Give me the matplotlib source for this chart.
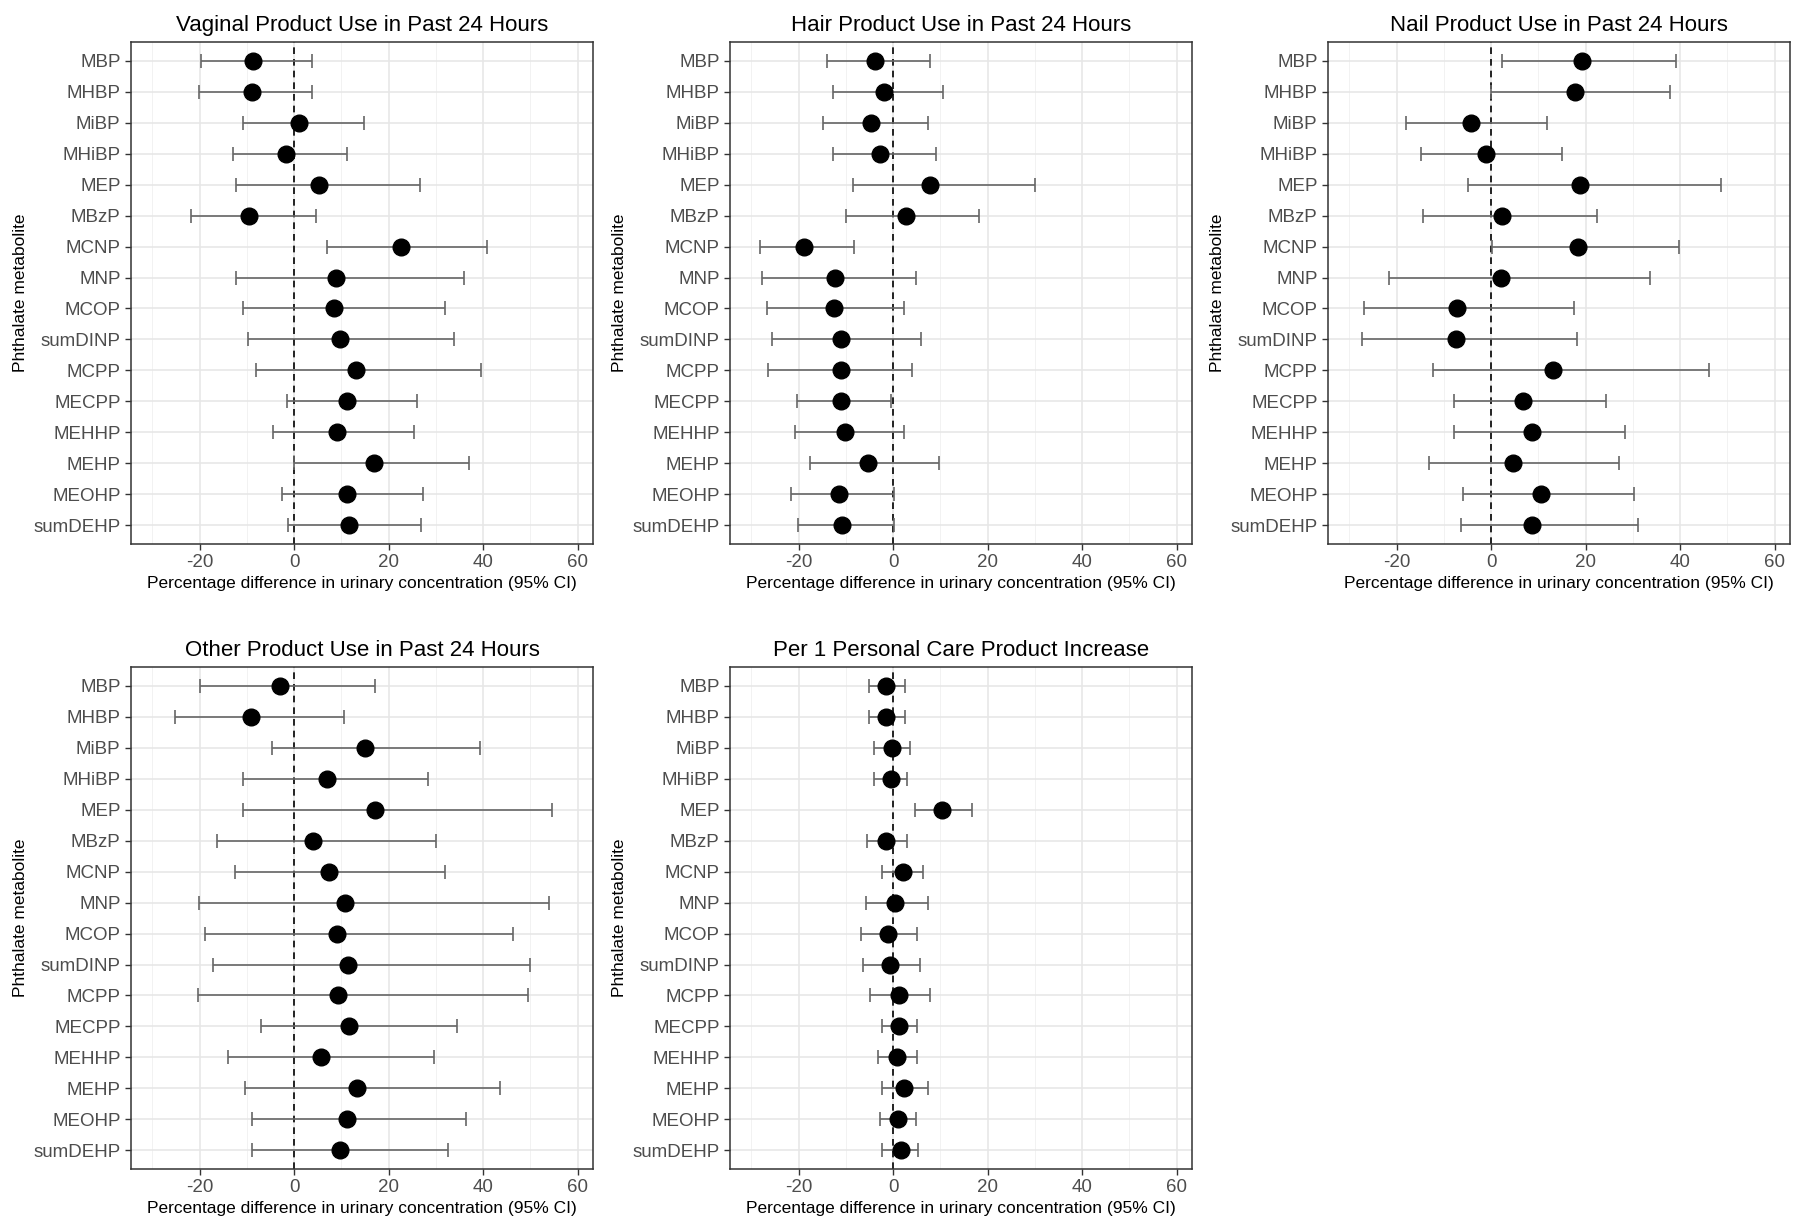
import matplotlib
matplotlib.use('Agg')
import matplotlib.pyplot as plt
from matplotlib.ticker import MultipleLocator

plt.rcParams['font.family'] = ['Liberation Sans', 'DejaVu Sans']
plt.rcParams['axes.unicode_minus'] = False

# metabolites, top to bottom
metabolites = ['MBP', 'MHBP', 'MiBP', 'MHiBP', 'MEP', 'MBzP', 'MCNP', 'MNP', 'MCOP',
               'sumDINP', 'MCPP', 'MECPP', 'MEHHP', 'MEHP', 'MEOHP', 'sumDEHP']

# Vaginal product use
vag_est = [-8.6, -9.0, 1.1, -1.8, 5.3, -9.6, 22.7, 8.8, 8.4, 9.8, 13.1, 11.2, 9.1, 16.9, 11.2, 11.7]
vag_lo = [-19.6, -20.2, -10.9, -12.9, -12.2, -21.9, 6.9, -12.2, -10.9, -9.8, -8.0, -1.4, -4.5, 0.0, -2.6, -1.2]
vag_hi = [3.7, 3.7, 14.9, 11.2, 26.7, 4.7, 40.8, 35.9, 32.0, 33.9, 39.5, 26.1, 25.3, 37.1, 27.2, 26.9]

# Hair product use
hair_est = [-3.9, -1.9, -4.7, -2.7, 7.9, 2.8, -18.8, -12.3, -12.5, -11.1, -11.1, -11.1, -10.2, -5.4, -11.4, -10.9]
hair_lo = [-14.0, -12.7, -14.9, -12.7, -8.4, -10.0, -28.2, -27.8, -26.6, -25.6, -26.4, -20.4, -20.7, -17.6, -21.5, -20.1]
hair_hi = [7.9, 10.5, 7.3, 9.0, 30.0, 18.2, -8.2, 4.9, 2.4, 5.9, 4.1, -0.4, 2.4, 9.7, 0.2, 0.2]

# Nail product use
nail_est = [19.2, 17.7, -4.2, -1.1, 18.8, 2.4, 18.4, 2.2, -7.2, -7.5, 13.2, 6.8, 8.6, 4.7, 10.6, 8.6]
nail_lo = [2.4, 0.0, -17.9, -14.9, -4.9, -14.4, 0.2, -21.6, -26.8, -27.3, -12.2, -7.9, -7.9, -13.2, -5.9, -6.4]
nail_hi = [39.2, 37.8, 11.8, 15.1, 48.6, 22.4, 39.8, 33.7, 17.6, 18.2, 46.2, 24.3, 28.4, 27.1, 30.2, 31.2]

# Other product use
oth_est = [-3.0, -9.2, 15.1, 6.9, 17.1, 4.1, 7.5, 10.8, 9.0, 11.4, 9.2, 11.7, 5.7, 13.3, 11.2, 9.8]
oth_lo = [-19.8, -25.2, -4.7, -10.9, -10.9, -16.2, -12.4, -20.1, -18.8, -17.1, -20.3, -7.0, -13.9, -10.4, -8.8, -8.8]
oth_hi = [17.2, 10.6, 39.4, 28.4, 54.5, 30.0, 32.0, 53.9, 46.3, 50.0, 49.6, 34.5, 29.7, 43.5, 36.3, 32.5]

# Per 1 personal care product increase
per_est = [-1.4, -1.4, -0.2, -0.5, 10.4, -1.4, 2.0, 0.4, -1.1, -0.6, 1.3, 1.2, 0.9, 2.4, 1.0, 1.6]
per_lo = [-5.1, -5.1, -4.1, -4.1, 4.7, -5.5, -2.3, -5.8, -6.8, -6.4, -4.8, -2.4, -3.2, -2.3, -2.7, -2.3]
per_hi = [2.6, 2.6, 3.6, 3.0, 16.7, 3.0, 6.4, 7.3, 5.1, 5.6, 7.9, 5.1, 5.1, 7.3, 4.9, 5.3]

panels = [
    ('Vaginal Product Use in Past 24 Hours', vag_est, vag_lo, vag_hi),
    ('Hair Product Use in Past 24 Hours', hair_est, hair_lo, hair_hi),
    ('Nail Product Use in Past 24 Hours', nail_est, nail_lo, nail_hi),
    ('Other Product Use in Past 24 Hours', oth_est, oth_lo, oth_hi),
    ('Per 1 Personal Care Product Increase', per_est, per_lo, per_hi),
]

fig = plt.figure(figsize=(18, 12.27), dpi=100)

lefts = [0.0728, 0.4056, 0.7378]
bottoms = [0.5567, 0.0473]
w, h = 0.2567, 0.409

for i, (title, est, lo, hi) in enumerate(panels):
    ax = fig.add_axes([lefts[i % 3], bottoms[i // 3], w, h])
    y = list(range(len(metabolites), 0, -1))
    xerr = [[e - l for e, l in zip(est, lo)], [u - e for e, u in zip(est, hi)]]
    ax.axvline(0, color='black', linestyle=(0, (4, 3)), lw=1.2, zorder=2)
    ax.errorbar(est, y, xerr=xerr, fmt='none', ecolor='#666666', elinewidth=1.2,
                capsize=5, capthick=1.2, zorder=3)
    ax.plot(est, y, 'o', color='black', markersize=12, zorder=4)

    ax.set_xlim(-34.5, 63.3)
    ax.set_ylim(0.4, len(metabolites) + 0.6)
    ax.set_xticks([-20, 0, 20, 40, 60])
    ax.xaxis.set_minor_locator(MultipleLocator(10))
    ax.set_yticks(y)
    ax.set_yticklabels(metabolites)
    ax.grid(which='major', color='#E6E6E6', lw=1.1, zorder=0)
    ax.grid(which='minor', axis='x', color='#F2F2F2', lw=0.7, zorder=0)
    ax.set_axisbelow(True)
    ax.tick_params(which='major', labelsize=13.5, labelcolor='#4D4D4D', color='#333333',
                   length=4, width=1)
    ax.tick_params(which='minor', length=0)
    for s in ax.spines.values():
        s.set_color('#333333')
        s.set_linewidth(1.1)
    ax.set_title(title, fontsize=16, pad=8)
    ax.set_xlabel('Percentage difference in urinary concentration (95% CI)', fontsize=12.5, labelpad=3)
    ax.set_ylabel('Phthalate metabolite', fontsize=12.5, labelpad=4)

plt.savefig('out.png', dpi=100)
